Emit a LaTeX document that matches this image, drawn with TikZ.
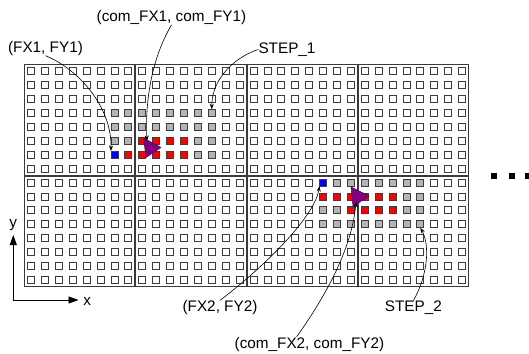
\documentclass[tikz,border=0pt]{standalone}
\usepackage{fontspec}
\setmainfont{Liberation Sans}
\usetikzlibrary{arrows.meta}
\definecolor{cellgray}{HTML}{B4B4B4}
\definecolor{celledge}{HTML}{3C3C3C}
\definecolor{frameedge}{HTML}{3A3A3A}
\definecolor{compurple}{HTML}{800080}
\definecolor{comedge}{HTML}{4D004D}
\begin{document}
\begin{tikzpicture}[x=1pt,y=-1pt,
  cell/.style={draw=celledge, line width=0.7pt, minimum size=7pt, inner sep=0pt, outer sep=0pt, fill=white},
  c0/.style={}, c1/.style={fill=cellgray}, c2/.style={fill=red}, c3/.style={fill=blue},
  panel/.style={draw=frameedge, line width=0.8pt},
  lbl/.style={font=\fontsize{15.3}{18}\selectfont, inner sep=0pt},
  conn/.style={line width=0.6pt, -{Stealth[length=5.5pt,width=4pt]}},
  axis/.style={line width=0.9pt, -{Triangle[length=10pt,width=7pt]}},
  tri/.style={fill=compurple, draw=comedge, line width=0.5pt, line join=round},
  dot/.style={fill=black, minimum size=6pt, inner sep=0pt}]
\useasboundingbox (0,0) rectangle (529,353);

% four by two panels of 8x8 cells
\foreach \p in {0,...,3}{
  \foreach \q in {0,1}{
    \draw[panel] ({24+111.25*\p+0.45},{64+111.5*\q+0.45}) rectangle ({24+111.25*(\p+1)-0.45},{64+111.5*(\q+1)-0.45});
  }
}

% cells: 0 empty, 1 step window, 2 force cells, 3 force origin
\foreach \i in {0,...,31}{
  \foreach \j in {0,...,15}{
    \pgfmathtruncatemacro\isg{((\j>2)&&(\j<7)&&(\i>5)&&(\i<14))||((\j>7)&&(\j<12)&&(\i>20)&&(\i<29))}
    \pgfmathtruncatemacro\isr{((\j==5)&&(\i>7)&&(\i<12))||((\j==6)&&(\i>6)&&(\i<12))||((\j==9)&&(\i>20)&&(\i<27))||((\j==10)&&(\i>22)&&(\i<27))}
    \pgfmathtruncatemacro\isb{((\i==6)&&(\j==6))||((\i==21)&&(\j==8))}
    \pgfmathtruncatemacro\kind{\isg+\isr+2*\isb}
    \node[cell, c\kind] (c-\i-\j) at ({24+13.906*(\i+0.5)},{64+13.9375*(\j+0.5)}) {};
  }
}

% centre-of-mass markers
\coordinate (t1a) at (143.5,138);
\coordinate (t1b) at (146,157.5);
\coordinate (t1c) at (161,147.5);
\coordinate (t2a) at (351,187);
\coordinate (t2b) at (353,206.5);
\coordinate (t2c) at (369,196);
\draw[tri] (t1a) -- (t1b) -- (t1c) -- cycle;
\draw[tri] (t2a) -- (t2b) -- (t2c) -- cycle;
\coordinate (t1hit) at (147,141);
\coordinate (t2hit) at (356,202);

% continuation dots
\node[dot] (d1) at (494,176) {};
\node[dot] (d2) at (511.5,176) {};
\node[dot] (d3) at (528,176) {};

% axes
\coordinate (org) at (13.3,300);
\coordinate (yend) at (13.3,235);
\coordinate (xend) at (78.5,300);
\draw[axis] (org) -- (yend);
\draw[axis] (org) -- (xend);
\node[lbl, anchor=base] (ylbl) at (13.3,227) {y};
\node[lbl, anchor=base] (xlbl) at (87.3,305) {x};

% labels
\node[lbl, anchor=base] (fx1) at (45.5,52.3) {(FX1, FY1)};
\node[lbl, anchor=base] (cfx1) at (171.5,21.5) {(com\_FX1, com\_FY1)};
\node[lbl, anchor=base west] (step1) at (258.3,53.3) {STEP\_1};
\node[lbl, anchor=base] (fx2) at (220,311.7) {(FX2, FY2)};
\node[lbl, anchor=base] (cfx2) at (309.5,348.3) {(com\_FX2, com\_FY2)};
\node[lbl, anchor=base] (step2) at (413.3,311.7) {STEP\_2};

% pointers
\draw[conn] (fx1.south) .. controls (80,70) and (112,108) .. (c-6-6.north west);
\draw[conn] (cfx1.south) .. controls (152,58) and (145,100) .. (t1hit);
\draw[conn] (step1.west) .. controls (240,55) and (212,75) .. (c-13-3.north);
\draw[conn] (fx2.north) .. controls (270,262) and (315,215) .. (c-21-8.south west);
\draw[conn] ([xshift=-13pt]cfx2.north) .. controls (330,290) and (352,245) .. (t2hit);
\draw[conn] (step2.north) .. controls (428,275) and (430,245) .. (c-28-11.south);
\end{tikzpicture}
\end{document}
